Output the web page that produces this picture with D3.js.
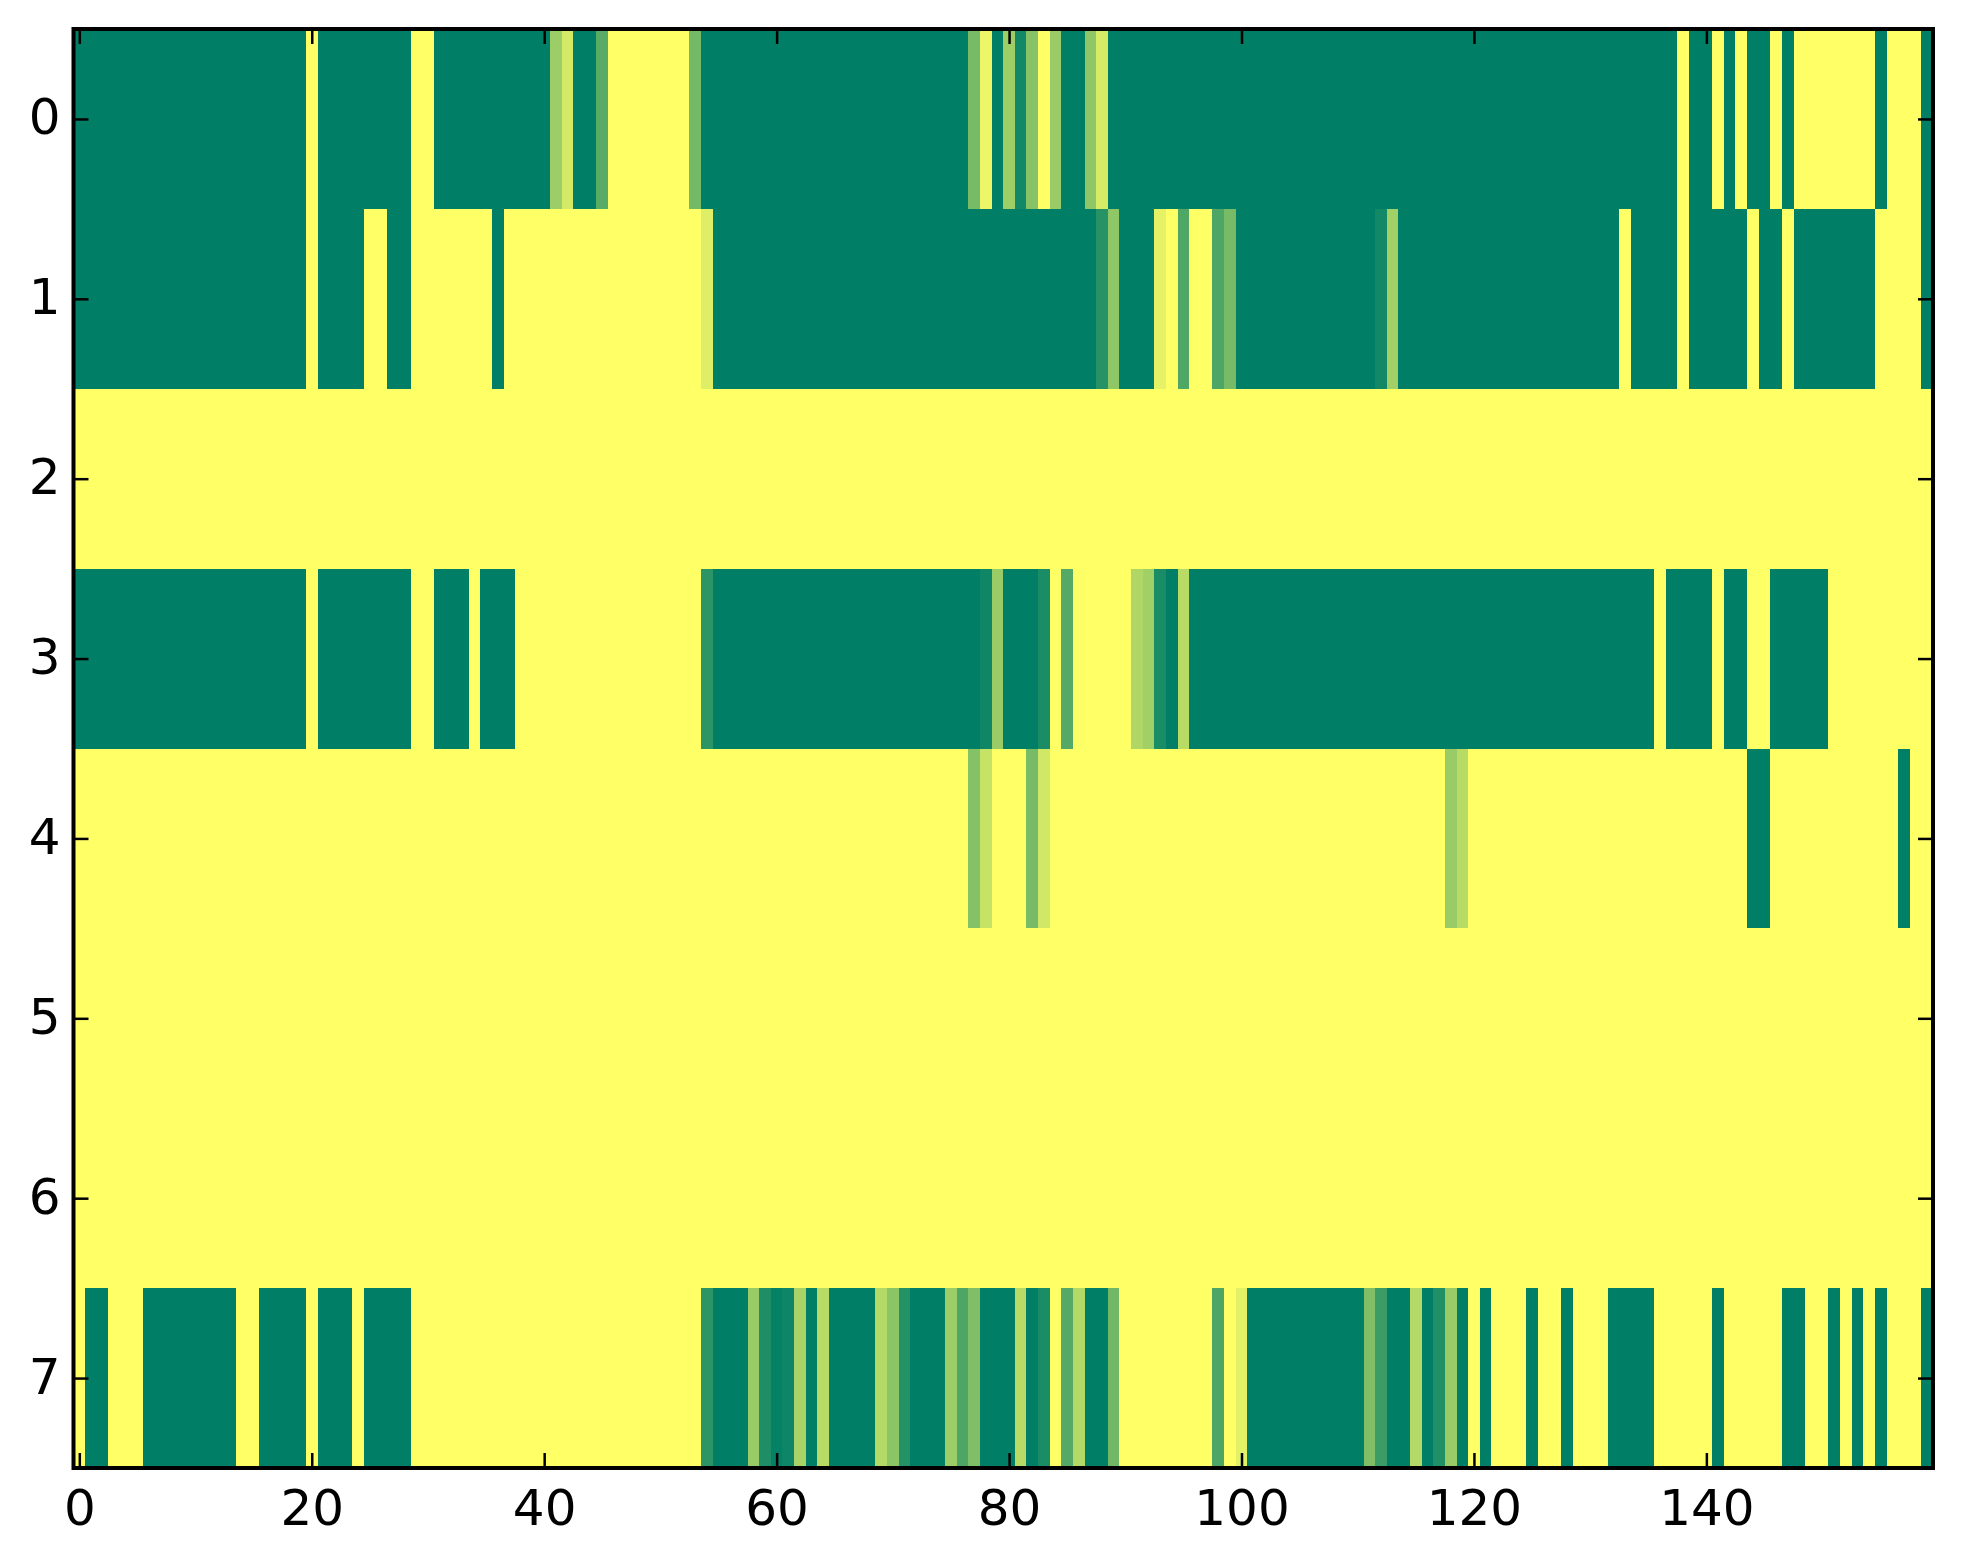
<!DOCTYPE html>
<html>
<head>
<meta charset="utf-8">
<script src="https://cdnjs.cloudflare.com/ajax/libs/d3/7.8.5/d3.min.js"></script>
<style>
html,body{margin:0;padding:0;background:#fff}
svg{display:block}
text{font-family:"DejaVu Sans";font-size:50px;fill:#000}
</style>
</head>
<body>
<svg id="c" width="1963" height="1564"></svg>
<script>
const xTickValues = [0,20,40,60,80,100,120,140];
const yTickValues = [0,1,2,3,4,5,6,7];
const row0 = [
1,1,1,1,1,1,1,1,1,1,
1,1,1,1,1,1,1,1,1,1,
0,1,1,1,1,1,1,1,1,0,
0,1,1,1,1,1,1,1,1,1,
1,.39,.17,1,1,.65,0,0,0,0,
0,0,0,.55,1,1,1,1,1,1,
1,1,1,1,1,1,1,1,1,1,
1,1,1,1,1,1,1,.53,.07,1,
.38,.93,.47,0,.40,1,1,.44,.16,1,
1,1,1,1,1,1,1,1,1,1,
1,1,1,1,1,1,1,1,1,1,
1,1,1,1,1,1,1,1,1,1,
1,1,1,1,1,1,1,1,1,1,
1,1,1,1,1,1,1,1,0,1,
1,0,1,0,1,1,0,1,0,0,
0,0,0,0,0,1,0,0,0,1];
const row1 = [
1,1,1,1,1,1,1,1,1,1,
1,1,1,1,1,1,1,1,1,1,
0,1,1,1,1,0,0,1,1,0,
0,0,0,0,0,0,1,0,0,0,
0,0,0,0,0,0,0,0,0,0,
0,0,0,0,.13,1,1,1,1,1,
1,1,1,1,1,1,1,1,1,1,
1,1,1,1,1,1,1,1,1,1,
1,1,1,1,1,1,1,1,.85,.44,
1,1,1,.10,0,.69,0,0,.70,.53,
1,1,1,1,1,1,1,1,1,1,
1,1,.93,.37,1,1,1,1,1,1,
1,1,1,1,1,1,1,1,1,1,
1,1,1,0,1,1,1,1,0,1,
1,1,1,1,0,1,1,0,1,1,
1,1,1,1,1,0,0,0,0,1];
const row2 = [
0,0,0,0,0,0,0,0,0,0,
0,0,0,0,0,0,0,0,0,0,
0,0,0,0,0,0,0,0,0,0,
0,0,0,0,0,0,0,0,0,0,
0,0,0,0,0,0,0,0,0,0,
0,0,0,0,0,0,0,0,0,0,
0,0,0,0,0,0,0,0,0,0,
0,0,0,0,0,0,0,0,0,0,
0,0,0,0,0,0,0,0,0,0,
0,0,0,0,0,0,0,0,0,0,
0,0,0,0,0,0,0,0,0,0,
0,0,0,0,0,0,0,0,0,0,
0,0,0,0,0,0,0,0,0,0,
0,0,0,0,0,0,0,0,0,0,
0,0,0,0,0,0,0,0,0,0,
0,0,0,0,0,0,0,0,0,0];
const row3 = [
1,1,1,1,1,1,1,1,1,1,
1,1,1,1,1,1,1,1,1,1,
0,1,1,1,1,1,1,1,1,0,
0,1,1,1,0,1,1,1,0,0,
0,0,0,0,0,0,0,0,0,0,
0,0,0,0,.83,1,1,1,1,1,
1,1,1,1,1,1,1,1,1,1,
1,1,1,1,1,1,1,1,.94,.40,
1,1,1,.90,0,.67,.01,0,0,0,
0,.31,.37,.90,1,.28,1,1,1,1,
1,1,1,1,1,1,1,1,1,1,
1,1,1,1,1,1,1,1,1,1,
1,1,1,1,1,1,1,1,1,1,
1,1,1,1,1,1,0,1,1,1,
1,0,1,1,0,0,1,1,1,1,
1,0,0,0,0,0,0,0,0,0];
const row4 = [
0,0,0,0,0,0,0,0,0,0,
0,0,0,0,0,0,0,0,0,0,
0,0,0,0,0,0,0,0,0,0,
0,0,0,0,0,0,0,0,0,0,
0,0,0,0,0,0,0,0,0,0,
0,0,0,0,0,0,0,0,0,0,
0,0,0,0,0,0,0,0,0,0,
0,0,0,0,0,0,0,.48,.22,0,
0,0,.53,.18,0,0,0,0,0,0,
0,0,0,0,0,0,0,0,0,0,
0,0,0,0,0,0,0,0,0,0,
0,0,0,0,0,0,0,0,.40,.28,
0,0,0,0,0,0,0,0,0,0,
0,0,0,0,0,0,0,0,0,0,
0,0,0,0,1,1,0,0,0,0,
0,0,0,0,0,0,0,1,0,0];
const row5 = row2.slice();
const row6 = row2.slice();
const row7 = [
0,1,1,0,0,0,1,1,1,1,
1,1,1,1,0,0,1,1,1,1,
0,1,1,1,0,1,1,1,1,0,
0,0,0,0,0,0,0,0,0,0,
0,0,0,0,0,0,0,0,0,0,
0,0,0,0,.83,1,1,1,.40,.88,
.98,.95,.34,1,.28,1,1,1,1,.30,
.45,.86,1,1,1,.39,.70,.50,1,1,
1,.28,1,.90,0,.67,.30,1,1,.56,
0,0,0,0,0,0,0,0,.70,0,
.11,1,1,1,1,1,1,1,1,1,
1,.50,.77,1,1,.30,1,.87,.40,1,
0,1,0,0,0,1,0,0,1,0,
0,0,1,1,1,1,0,0,0,0,
0,1,0,0,0,0,0,1,1,0,
0,1,0,1,0,1,0,0,0,1];
const rows = [row0,row1,row2,row3,row4,row5,row6,row7];

const plotLeft=73.5, plotRight=1933, plotTop=29, plotBottom=1468;
const x = d3.scaleLinear().domain([-0.5,159.5]).range([plotLeft,plotRight]);
const y = d3.scaleLinear().domain([-0.5,7.5]).range([plotTop,plotBottom]);
const color = d3.scaleLinear().domain([0,1]).range(["#ffff66","#007f66"]);

const svg = d3.select("#c");
const cells = rows.flatMap((r,ri)=>r.map((v,ci)=>({ri,ci,v})));
svg.append("g").attr("shape-rendering","crispEdges")
  .selectAll("rect").data(cells).join("rect")
  .attr("x",d=>x(d.ci-0.5))
  .attr("y",d=>y(d.ri-0.5))
  .attr("width",d=>x(d.ci+0.5)-x(d.ci-0.5))
  .attr("height",d=>y(d.ri+0.5)-y(d.ri-0.5))
  .attr("fill",d=>color(d.v));

function style(g,label){
  g.select(".domain").remove();
  g.selectAll(".tick line").attr("stroke","#000").attr("stroke-width",2.5);
  g.selectAll(".tick text").attr("font-family","DejaVu Sans").attr("font-size",50).attr("fill","#000");
  if(!label) g.selectAll(".tick text").remove();
}
svg.append("g").attr("transform",`translate(0,${plotBottom})`)
  .call(d3.axisBottom(x).tickValues(xTickValues).tickSizeInner(-15).tickPadding(21).tickFormat(d3.format("d")))
  .call(g=>style(g,true));
svg.append("g").attr("transform",`translate(0,${plotTop})`)
  .call(d3.axisTop(x).tickValues(xTickValues).tickSizeInner(-15))
  .call(g=>style(g,false));
svg.append("g").attr("transform",`translate(${plotLeft},0)`)
  .call(d3.axisLeft(y).tickValues(yTickValues).tickSizeInner(-15).tickPadding(13).tickFormat(d3.format("d")))
  .call(g=>style(g,true))
  .call(g=>g.selectAll(".tick text").attr("dy","0.30em"));
svg.append("g").attr("transform",`translate(${plotRight},0)`)
  .call(d3.axisRight(y).tickValues(yTickValues).tickSizeInner(-15))
  .call(g=>style(g,false));
svg.append("rect").attr("x",plotLeft).attr("y",plotTop)
  .attr("width",plotRight-plotLeft).attr("height",plotBottom-plotTop)
  .attr("fill","none").attr("stroke","#000").attr("stroke-width",4);
</script>
</body>
</html>
